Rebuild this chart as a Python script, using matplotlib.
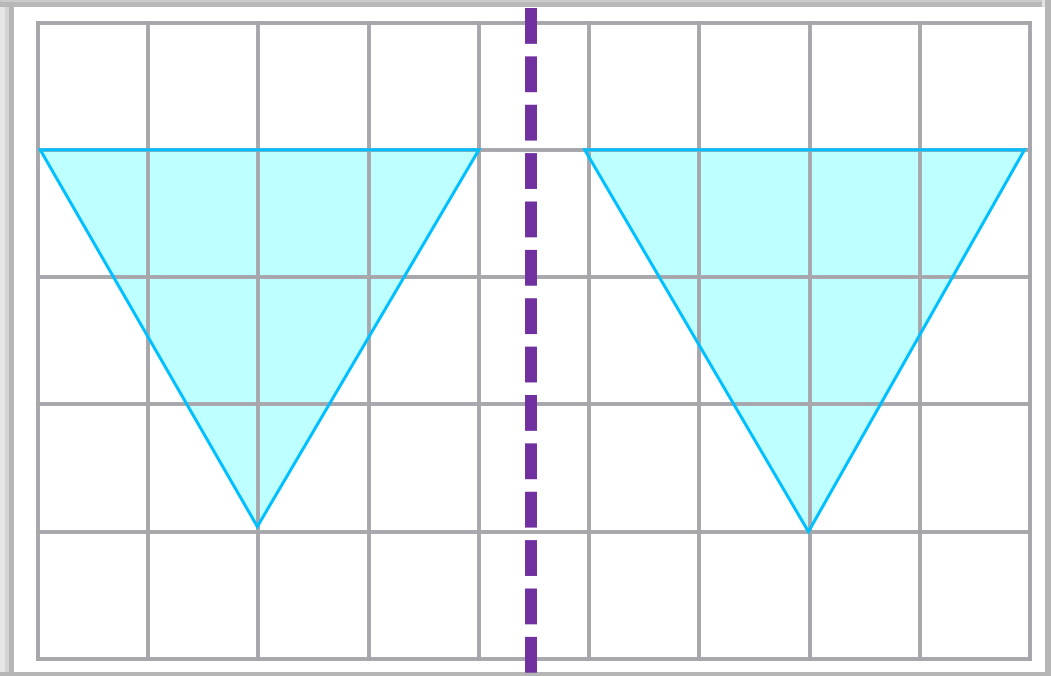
import matplotlib
matplotlib.use("Agg")
import matplotlib.pyplot as plt
from matplotlib.patches import Rectangle

# grid size (columns, rows)
n_cols = 9
n_rows = 5

# triangle corners in grid units (left-top, right-top, apex)
tri1_x = [0.02, 4.0, 1.99]
tri1_y = [4.0, 4.0, 1.04]
tri2_x = [4.96, 8.95, 6.99]
tri2_y = [4.0, 4.0, 1.0]

# dashed divider
divider_x = 4.47
divider_y = [5.114, -0.134]

W, H = 1051, 676
fig = plt.figure(figsize=(W / 100, H / 100), dpi=100)
fig.patch.set_facecolor("white")


def px_rect(x0, y0, x1, y1, color):
    """rectangle in pixel coords measured from the top-left corner"""
    r = Rectangle((x0 / W, 1 - y1 / H), (x1 - x0) / W, (y1 - y0) / H,
                  transform=fig.transFigure, facecolor=color,
                  edgecolor="none", zorder=0)
    fig.add_artist(r)


# soft shadow frame round the card
px_rect(0, 0, 5, H, "#e6e6e6")
px_rect(5, 0, 9, H, "#d3d3d3")
px_rect(9, 0, 14, H, "#b6b6b6")
px_rect(0, 0, W, 2, "#cacaca")
px_rect(0, 2, W, 7, "#b8b8b8")
px_rect(1042, 0, 1045, H, "#e2e2e2")
px_rect(1045, 0, W, H, "#b6b6b6")
px_rect(0, 672, W, H, "#b6b6b6")
px_rect(14, 7, 1045, 672, "white")

ax = fig.add_axes([38 / W, (H - 659) / H, 992 / W, (659 - 22.5) / H])
ax.set_xlim(0, n_cols)
ax.set_ylim(0, n_rows)
ax.set_axis_off()

grid_color = "#a7a7ab"
for i in range(n_cols + 1):
    ax.axvline(i, color=grid_color, lw=2.8, zorder=2, clip_on=False)
for j in range(n_rows + 1):
    ax.axhline(j, color=grid_color, lw=2.8, zorder=2, clip_on=False)

for tx, ty in [(tri1_x, tri1_y), (tri2_x, tri2_y)]:
    ax.fill(tx, ty, color="#beffff", zorder=1, lw=0)
    ax.fill(tx, ty, facecolor="none", edgecolor="#00bfff", lw=2.2,
            zorder=3, joinstyle="miter")

line, = ax.plot([divider_x, divider_x], divider_y, color="#7030a0",
                lw=8.6, zorder=4, clip_on=False, solid_capstyle="butt",
                dash_capstyle="butt")
line.set_dashes((3, 1.05))

fig.savefig("out.png", dpi=100)
